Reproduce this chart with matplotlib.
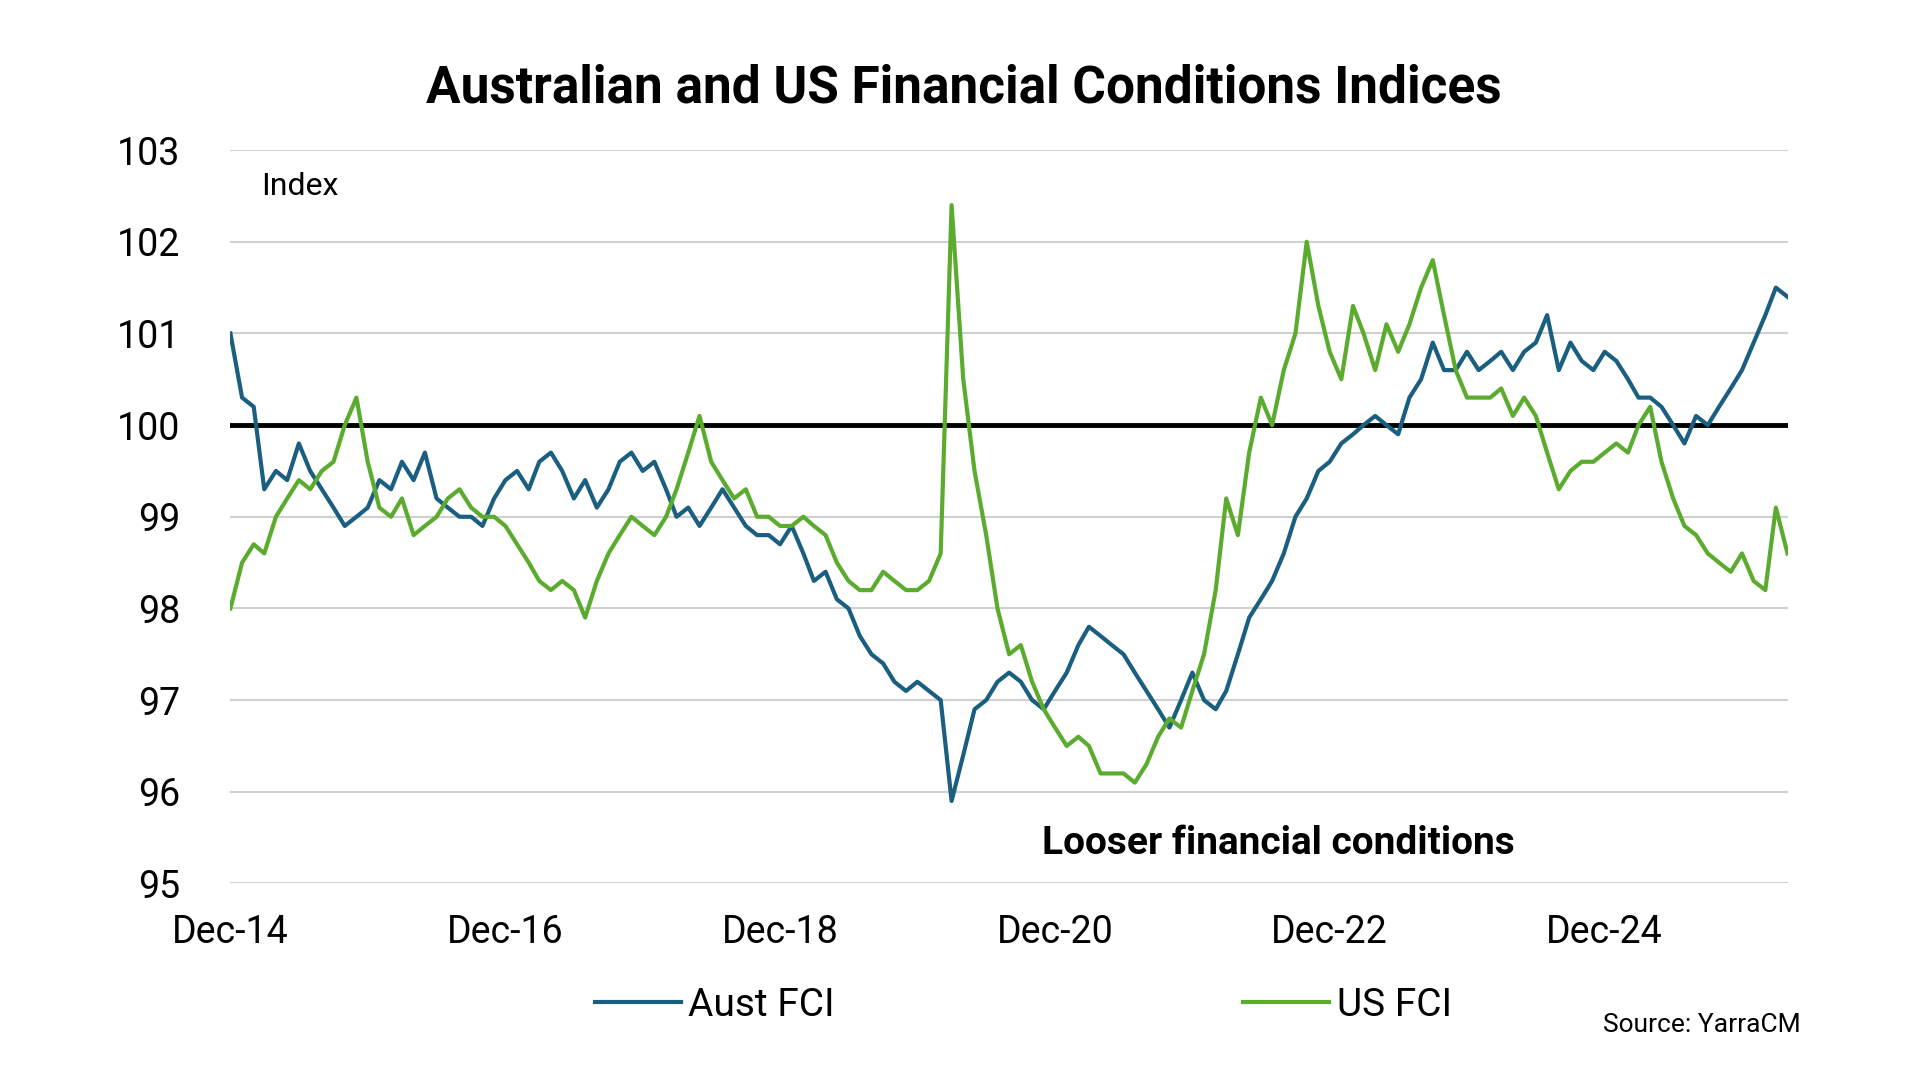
import numpy as np
import pandas as pd
import matplotlib.pyplot as plt

plt.rcParams['font.family'] = ['Roboto', 'DejaVu Sans']

# monthly readings, Dec-2014 .. Apr-2026
dates = pd.date_range('2014-12-01', '2026-04-01', freq='MS')

aust_fci = [
    101.0,
    100.3, 100.2, 99.3, 99.5, 99.4, 99.8, 99.5, 99.3, 99.1, 98.9, 99.0, 99.1,
    99.4, 99.3, 99.6, 99.4, 99.7, 99.2, 99.1, 99.0, 99.0, 98.9, 99.2, 99.4,
    99.5, 99.3, 99.6, 99.7, 99.5, 99.2, 99.4, 99.1, 99.3, 99.6, 99.7, 99.5,
    99.6, 99.3, 99.0, 99.1, 98.9, 99.1, 99.3, 99.1, 98.9, 98.8, 98.8, 98.7,
    98.9, 98.6, 98.3, 98.4, 98.1, 98.0, 97.7, 97.5, 97.4, 97.2, 97.1, 97.2,
    97.1, 97.0, 95.9, 96.4, 96.9, 97.0, 97.2, 97.3, 97.2, 97.0, 96.9, 97.1,
    97.3, 97.6, 97.8, 97.7, 97.6, 97.5, 97.3, 97.1, 96.9, 96.7, 97.0, 97.3,
    97.0, 96.9, 97.1, 97.5, 97.9, 98.1, 98.3, 98.6, 99.0, 99.2, 99.5, 99.6,
    99.8, 99.9, 100.0, 100.1, 100.0, 99.9, 100.3, 100.5, 100.9, 100.6, 100.6, 100.8,
    100.6, 100.7, 100.8, 100.6, 100.8, 100.9, 101.2, 100.6, 100.9, 100.7, 100.6, 100.8,
    100.7, 100.5, 100.3, 100.3, 100.2, 100.0, 99.8, 100.1, 100.0, 100.2, 100.4, 100.6,
    100.9, 101.2, 101.5, 101.4,
]

us_fci = [
    98.0,
    98.5, 98.7, 98.6, 99.0, 99.2, 99.4, 99.3, 99.5, 99.6, 100.0, 100.3, 99.6,
    99.1, 99.0, 99.2, 98.8, 98.9, 99.0, 99.2, 99.3, 99.1, 99.0, 99.0, 98.9,
    98.7, 98.5, 98.3, 98.2, 98.3, 98.2, 97.9, 98.3, 98.6, 98.8, 99.0, 98.9,
    98.8, 99.0, 99.3, 99.7, 100.1, 99.6, 99.4, 99.2, 99.3, 99.0, 99.0, 98.9,
    98.9, 99.0, 98.9, 98.8, 98.5, 98.3, 98.2, 98.2, 98.4, 98.3, 98.2, 98.2,
    98.3, 98.6, 102.4, 100.5, 99.5, 98.8, 98.0, 97.5, 97.6, 97.2, 96.9, 96.7,
    96.5, 96.6, 96.5, 96.2, 96.2, 96.2, 96.1, 96.3, 96.6, 96.8, 96.7, 97.1,
    97.5, 98.2, 99.2, 98.8, 99.7, 100.3, 100.0, 100.6, 101.0, 102.0, 101.3, 100.8,
    100.5, 101.3, 101.0, 100.6, 101.1, 100.8, 101.1, 101.5, 101.8, 101.2, 100.6, 100.3,
    100.3, 100.3, 100.4, 100.1, 100.3, 100.1, 99.7, 99.3, 99.5, 99.6, 99.6, 99.7,
    99.8, 99.7, 100.0, 100.2, 99.6, 99.2, 98.9, 98.8, 98.6, 98.5, 98.4, 98.6,
    98.3, 98.2, 99.1, 98.6,
]

n = len(dates)
aust_fci = aust_fci[:n]
us_fci = us_fci[:n]

tick_dates = pd.to_datetime(['2014-12-01', '2016-12-01', '2018-12-01',
                             '2020-12-01', '2022-12-01', '2024-12-01'])
tick_labels = ['Dec-14', 'Dec-16', 'Dec-18', 'Dec-20', 'Dec-22', 'Dec-24']

fig = plt.figure(figsize=(19.2, 10.8), dpi=100)
ax = fig.add_axes([0.12, 0.182, 0.811, 0.679])

ax.plot(dates, aust_fci, color='#1a5e80', lw=3, label='Aust FCI', zorder=3)
ax.plot(dates, us_fci, color='#5aab2e', lw=3, label='US FCI', zorder=3)
ax.axhline(100, color='black', lw=3.5, zorder=2)

ax.set_ylim(95, 103)
ax.set_xlim(dates[0], dates[-1])
ax.set_yticks(range(95, 104))
ax.set_xticks(tick_dates)
ax.set_xticklabels(tick_labels)
ax.tick_params(axis='both', labelsize=27, length=0, pad=22)
ax.tick_params(axis='y', pad=36)
ax.grid(axis='y', color='#d0d0d0', lw=1.5)
for s in ax.spines.values():
    s.set_visible(False)

ax.text(0.02, 0.97, 'Index', transform=ax.transAxes, fontsize=23, va='top')
ax.text(0.673, 0.055, 'Looser financial conditions', transform=ax.transAxes,
        fontsize=28, fontweight='bold', ha='center', va='center')

fig.text(0.502, 0.918, 'Australian and US Financial Conditions Indices',
         fontsize=37, fontweight='bold', ha='center', va='center')

leg = fig.legend(loc='center', bbox_to_anchor=(0.533, 0.069), ncol=2, frameon=False,
                 fontsize=28, columnspacing=10.5, handlelength=2.2, handletextpad=0.2)
fig.text(0.938, 0.051, 'Source: YarraCM', fontsize=19, ha='right', va='center')

fig.savefig('out.png', dpi=100)
